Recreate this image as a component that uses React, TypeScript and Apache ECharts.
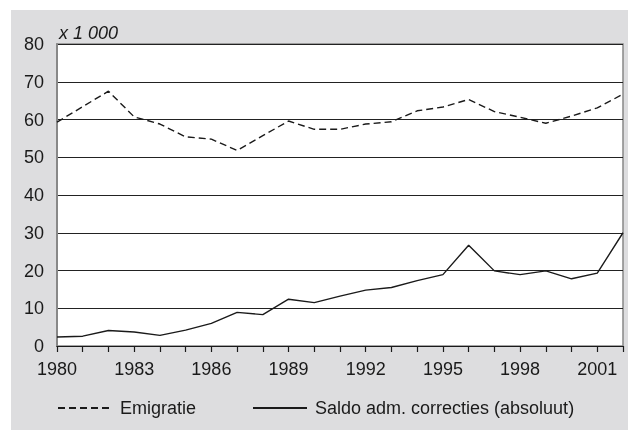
import React, { useEffect, useRef } from "react";
import * as echarts from "echarts";

const years = ["1980","1981","1982","1983","1984","1985","1986","1987","1988","1989","1990","1991","1992","1993","1994","1995","1996","1997","1998","1999","2000","2001","2002"];
const emigratie = [59.3,63.4,67.5,60.7,58.8,55.4,54.8,51.8,55.7,59.6,57.4,57.4,58.8,59.4,62.3,63.3,65.3,62.1,60.6,59.0,60.9,63.1,66.7];
const saldo = [2.4,2.6,4.1,3.7,2.8,4.2,6.0,8.9,8.3,12.4,11.5,13.2,14.8,15.5,17.3,18.9,26.7,19.9,18.9,19.9,17.8,19.3,30.0];
const seriesNames = ["Emigratie", "Saldo adm. correcties (absoluut)"];
const unitLabel = "x 1 000";

const FONT = "'Liberation Sans', Arial, sans-serif";
const INK = "#1a1a1a";

export default function App() {
  const ref = useRef<HTMLDivElement>(null);
  useEffect(() => {
    if (!ref.current) return;
    const chart = echarts.init(ref.current, null, { renderer: "svg" });
    const legendBase = {
      top: 399,
      itemWidth: 54,
      itemHeight: 10,
      itemGap: 8,
      padding: 0,
      itemStyle: { opacity: 0 },
      textStyle: { fontFamily: FONT, fontSize: 18, color: INK, padding: [0, 0, 0, 3] },
    };
    chart.setOption({
      animation: false,
      textStyle: { fontFamily: FONT, color: INK },
      graphic: [
        {
          type: "rect",
          z: -100,
          silent: true,
          shape: { x: 11, y: 10, width: 617, height: 420 },
          style: { fill: "#dddddf" },
        },
      ],
      title: {
        text: unitLabel,
        left: 54,
        top: 19,
        textStyle: { fontFamily: FONT, fontSize: 18, fontStyle: "italic", fontWeight: "normal", color: INK },
      },
      legend: [
        { ...legendBase, data: [seriesNames[0]], left: 57 },
        { ...legendBase, data: [seriesNames[1]], left: 252 },
      ],
      grid: {
        left: 57,
        right: 5,
        top: 44,
        bottom: 91,
        show: true,
        backgroundColor: "#ffffff",
        borderColor: "#888888",
        borderWidth: 1.5,
        containLabel: false,
      },
      xAxis: {
        type: "category",
        data: years,
        boundaryGap: false,
        axisLine: { show: true, lineStyle: { color: INK, width: 1.2 } },
        axisTick: { show: true, interval: 0, length: 6, lineStyle: { color: INK, width: 1.2 } },
        axisLabel: { interval: 2, margin: 14, fontSize: 18, color: INK, fontFamily: FONT },
        splitLine: { show: false },
      },
      yAxis: {
        type: "value",
        min: 0,
        max: 80,
        interval: 10,
        axisLine: { show: true, lineStyle: { color: "#888888", width: 2 } },
        axisTick: { show: false },
        axisLabel: { margin: 13, fontSize: 18, color: INK, fontFamily: FONT },
        splitLine: { show: true, lineStyle: { color: "#222222", width: 1.2 } },
      },
      series: [
        {
          name: seriesNames[0],
          type: "line",
          data: emigratie,
          symbol: "none",
          lineStyle: { color: INK, width: 1.4, type: [7, 4] },
          itemStyle: { color: INK },
        },
        {
          name: seriesNames[1],
          type: "line",
          data: saldo,
          symbol: "none",
          lineStyle: { color: INK, width: 1.4, type: "solid" },
          itemStyle: { color: INK },
        },
      ],
    });
    return () => chart.dispose();
  }, []);
  return (
    <div
      ref={ref}
      style={{ position: "fixed", left: 0, top: 0, width: 628, height: 437 }}
    />
  );
}
